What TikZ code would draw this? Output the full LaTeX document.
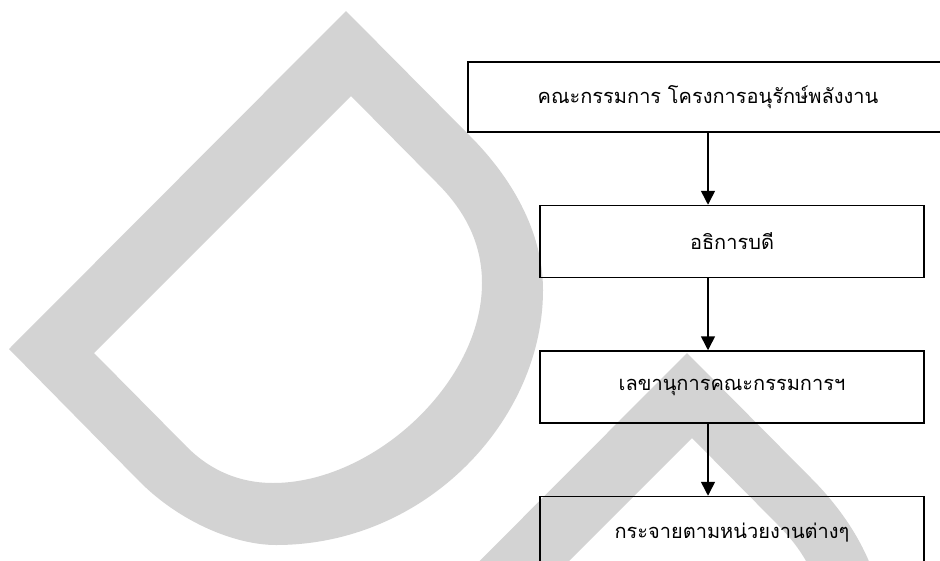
\documentclass[tikz,border=0pt]{standalone}
\usepackage{fontspec}
\setmainfont{Loma}[Script=Thai]
\usetikzlibrary{positioning,arrows.meta}

\definecolor{wmgray}{RGB}{211,211,211}

\begin{document}
\begin{tikzpicture}[x=1pt,y=-1pt,
	box/.style={draw, line width=1.5pt, minimum width=384pt, minimum height=72pt, inner sep=0pt, font=\fontsize{20}{24}\selectfont},
	arr/.style={line width=1.5pt, -{Triangle[length=14pt,width=14pt]}}]
	
	% Page size
	\useasboundingbox (0,0) rectangle (940,560);
	\clip (0,0) rectangle (940,560);
	
	% Watermark letters in the background
	\fill[wmgray, even odd rule] (346,11) -- (9,349) -- (140,482)
		.. controls (180,522) and (235,545) .. (276,545)
		.. controls (426,545) and (543,420) .. (543,290)
		.. controls (543,230) and (510,176) .. (470,136) -- cycle
		(351,96) -- (94,353) -- (187,447)
		.. controls (217,477) and (250,483) .. (273,483)
		.. controls (373,483) and (482,383) .. (482,283)
		.. controls (482,240) and (462,208) .. (437,183) -- cycle;
	\fill[wmgray, even odd rule, shift={(341,342)}] (346,11) -- (9,349) -- (140,482)
		.. controls (180,522) and (235,545) .. (276,545)
		.. controls (426,545) and (543,420) .. (543,290)
		.. controls (543,230) and (510,176) .. (470,136) -- cycle
		(351,96) -- (94,353) -- (187,447)
		.. controls (217,477) and (250,483) .. (273,483)
		.. controls (373,483) and (482,383) .. (482,283)
		.. controls (482,240) and (462,208) .. (437,183) -- cycle;
	
	% Boxes of the chart
	\node[box, minimum width=480pt, minimum height=70pt] (b1) at (708,97) {คณะกรรมการ โครงการอนุรักษ์พลังงาน};
	\node[box, below=72pt of b1, xshift=24pt] (b2) {อธิการบดี};
	\node[box, below=72pt of b2] (b3) {เลขานุการคณะกรรมการฯ};
	\node[box, below=72pt of b3] (b4) {กระจายตามหน่วยงานต่างๆ};
	
	% Arrows down the chart
	\draw[arr] (b1.south) -- (b1.south |- b2.north);
	\draw[arr] (b2.south -| b1.south) -- (b1.south |- b3.north);
	\draw[arr] (b3.south -| b1.south) -- (b1.south |- b4.north);
	
\end{tikzpicture}
\end{document}
